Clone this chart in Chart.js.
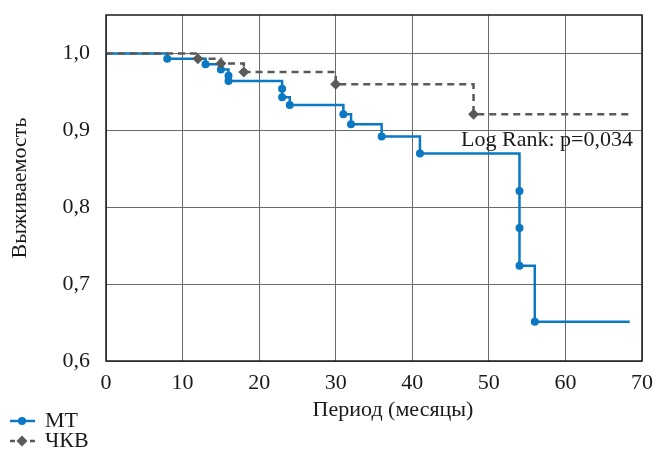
<!DOCTYPE html>
<html>
<head>
<meta charset="utf-8">
<script src="https://cdn.jsdelivr.net/npm/chart.js@4/dist/chart.umd.min.js"></script>
<style>
  html, body { margin: 0; padding: 0; background: #fff; }
  canvas { display: block; }
</style>
</head>
<body>
<canvas id="kmChart" width="657" height="451"></canvas>
<script>
// Kaplan-Meier data (months, survival)
const mtMonths = [0, 8, 13, 15, 16, 16, 23, 23, 24, 31, 32, 36, 41, 54, 54, 54, 56, 68.4];
const mtSurvival = [1.0, 0.993, 0.986, 0.979, 0.971, 0.964, 0.954, 0.943, 0.933, 0.921, 0.908, 0.892, 0.870, 0.821, 0.773, 0.724, 0.651, 0.651];
const pciMonths = [0, 12, 15, 18, 30, 48, 68.8];
const pciSurvival = [1.0, 0.993, 0.987, 0.976, 0.960, 0.921, 0.921];

const seriesNames = ['МТ', 'ЧКВ'];
const xTicks = [0, 10, 20, 30, 40, 50, 60, 70];
const yTicks = [0.6, 0.7, 0.8, 0.9, 1.0];
const xTitle = 'Период (месяцы)';
const yTitle = 'Выживаемость';
const annotationText = 'Log Rank: p=0,034';

const BLUE = '#0a78c2';
const GREY = '#5a5a5a';
const TEXT = '#1a1a1a';
const GRID = '#6a6a6a';
const FONT = "'Liberation Serif', 'Times New Roman', serif";
const SIZE = 22;

const toPoints = (xs, ys) => xs.map((x, i) => ({ x: x, y: ys[i] }));
// no marker at the first and the last (censored end) point
const markerRadius = (r) => (ctx) => {
  const n = ctx.dataset.data.length;
  return (ctx.dataIndex === 0 || ctx.dataIndex === n - 1) ? 0 : r;
};

// fixed axis box sizes, no extra label padding
const fixBox = (w, h) => (s) => {
  if (w !== null) s.width = w;
  if (h !== null) s.height = h;
  s.paddingTop = 0;
  s.paddingBottom = 0;
  s.paddingLeft = 0;
  s.paddingRight = 0;
};

// frame, x title, annotation and legend
const extras = {
  id: 'extras',
  afterDraw(chart) {
    const { ctx, chartArea: a } = chart;
    ctx.save();
    ctx.strokeStyle = TEXT;
    ctx.lineWidth = 1.5;
    ctx.strokeRect(a.left, a.top, a.right - a.left, a.bottom - a.top);

    ctx.fillStyle = TEXT;
    ctx.font = SIZE + 'px ' + FONT;
    ctx.textBaseline = 'middle';
    ctx.textAlign = 'center';
    ctx.fillText(xTitle, 393, 410);

    ctx.textAlign = 'right';
    ctx.fillText(annotationText, a.right - 9, chart.scales.y.getPixelForValue(0.9) + 10);

    // legend
    const rows = [
      { name: seriesNames[0], color: BLUE, dash: [], style: 'circle', y: 421 },
      { name: seriesNames[1], color: GREY, dash: [5, 5], style: 'diamond', y: 441 }
    ];
    rows.forEach(r => {
      ctx.strokeStyle = r.color;
      ctx.fillStyle = r.color;
      ctx.lineWidth = 2.5;
      ctx.setLineDash(r.dash);
      ctx.beginPath();
      ctx.moveTo(10, r.y);
      ctx.lineTo(35, r.y);
      ctx.stroke();
      ctx.setLineDash([]);
      ctx.beginPath();
      if (r.style === 'circle') {
        ctx.arc(22, r.y, 4, 0, Math.PI * 2);
      } else {
        ctx.moveTo(22, r.y - 5.5);
        ctx.lineTo(27.5, r.y);
        ctx.lineTo(22, r.y + 5.5);
        ctx.lineTo(16.5, r.y);
        ctx.closePath();
      }
      ctx.fill();
      ctx.fillStyle = TEXT;
      ctx.textAlign = 'left';
      ctx.fillText(r.name, 45, r.y);
    });
    ctx.restore();
  }
};

new Chart(document.getElementById('kmChart').getContext('2d'), {
  type: 'line',
  data: {
    datasets: [
      {
        label: seriesNames[0],
        data: toPoints(mtMonths, mtSurvival),
        stepped: true,
        borderColor: BLUE,
        backgroundColor: BLUE,
        borderWidth: 2.5,
        pointStyle: 'circle',
        pointRadius: markerRadius(4),
        pointBorderWidth: 0,
        order: 1
      },
      {
        label: seriesNames[1],
        data: toPoints(pciMonths, pciSurvival),
        stepped: true,
        borderColor: GREY,
        backgroundColor: GREY,
        borderWidth: 2.5,
        borderDash: [7, 5],
        pointStyle: 'rectRot',
        pointRadius: markerRadius(5.5),
        pointBorderWidth: 0,
        order: 0
      }
    ]
  },
  options: {
    responsive: false,
    animation: false,
    layout: { padding: { top: 15, right: 15, left: 0, bottom: 0 } },
    plugins: {
      legend: { display: false },
      tooltip: { enabled: false }
    },
    scales: {
      x: {
        type: 'linear',
        min: xTicks[0],
        max: xTicks[xTicks.length - 1],
        afterFit: fixBox(null, 90),
        afterBuildTicks: (s) => { s.ticks = xTicks.map(v => ({ value: v })); },
        grid: { color: GRID, lineWidth: 1, drawTicks: false },
        border: { display: false },
        ticks: {
          padding: 9,
          color: TEXT,
          font: { family: FONT, size: SIZE },
          maxRotation: 0
        },
        title: { display: false }
      },
      y: {
        min: 0.6,
        max: 1.05,
        afterFit: fixBox(106, null),
        afterBuildTicks: (s) => { s.ticks = yTicks.map(v => ({ value: v })); },
        grid: { color: GRID, lineWidth: 1, drawTicks: false },
        border: { display: false },
        ticks: {
          padding: 16,
          color: TEXT,
          font: { family: FONT, size: SIZE },
          callback: (v) => Number(v).toFixed(1).replace('.', ',')
        },
        title: {
          display: true,
          text: yTitle,
          color: TEXT,
          font: { family: FONT, size: SIZE },
          padding: { top: 7, bottom: 0 }
        }
      }
    }
  },
  plugins: [extras]
});
</script>
</body>
</html>
